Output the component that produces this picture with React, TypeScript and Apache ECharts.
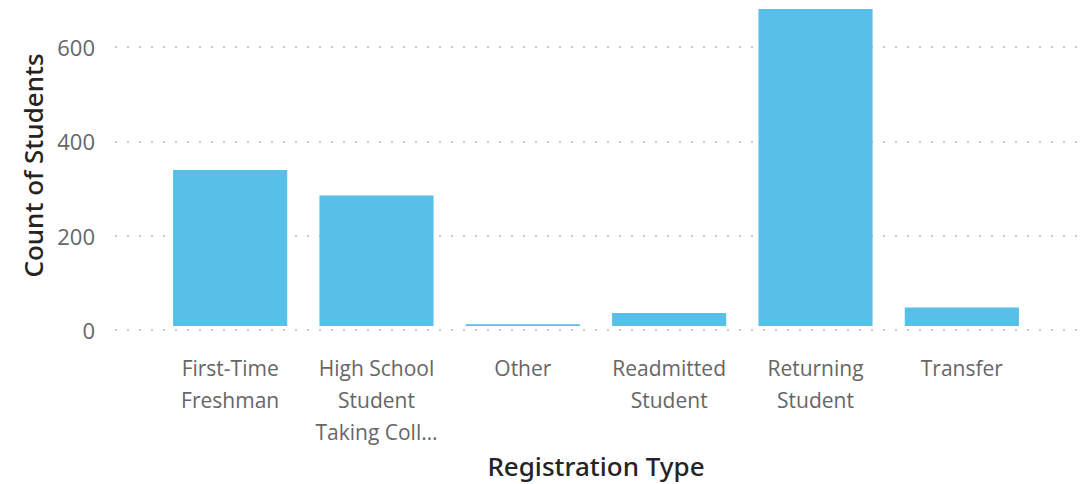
import React, { useEffect, useRef } from "react";
import * as echarts from "echarts";

const categories = [
  "First-Time\nFreshman",
  "High School\nStudent\nTaking Coll…",
  "Other",
  "Readmitted\nStudent",
  "Returning\nStudent",
  "Transfer",
];
const counts = [335, 280, 4, 28, 680, 40];
const tickMax = 600;
const barMax = 680;
const tickInterval = 200;

export default function App() {
  const ref = useRef<HTMLDivElement>(null);
  useEffect(() => {
    if (!ref.current) return;
    const chart = echarts.init(ref.current, undefined, { renderer: "svg" });
    const tickFont = "'Open Sans', 'Noto Sans', sans-serif";
    const titleFont = "'Noto Sans', 'Open Sans', sans-serif";
    chart.setOption({
      animation: false,
      grid: [
        { left: 115, right: 7, top: 47, bottom: 154 },
        { left: 157, right: 52, top: 9, bottom: 154 },
      ],
      xAxis: [
        {
          gridIndex: 0,
          type: "category",
          data: [""],
          show: false,
        },
        {
          gridIndex: 1,
          type: "category",
          data: categories,
          axisLine: { show: false },
          axisTick: { show: false },
          axisLabel: {
            interval: 0,
            color: "#666666",
            fontFamily: tickFont,
            fontSize: 21,
            lineHeight: 32,
            margin: 26,
          },
          name: "Registration Type",
          nameLocation: "middle",
          nameGap: 120,
          nameTextStyle: {
            color: "#252423",
            fontFamily: titleFont,
            fontSize: 26,
            fontWeight: 500,
          },
        },
      ],
      yAxis: [
        {
          gridIndex: 0,
          type: "value",
          min: 0,
          max: tickMax,
          interval: tickInterval,
          axisLine: { show: false },
          axisTick: { show: false },
          axisLabel: {
            color: "#666666",
            fontFamily: tickFont,
            fontSize: 22,
            margin: 20,
          },
          splitLine: {
            show: true,
            lineStyle: { color: "#C8C8C8", width: 2, type: [2, 10] },
          },
          name: "Count of Students",
          nameLocation: "middle",
          nameGap: 68,
          nameTextStyle: {
            color: "#252423",
            fontFamily: titleFont,
            fontSize: 26,
            fontWeight: 500,
            padding: [0, 0, 0, 46],
          },
        },
        {
          gridIndex: 1,
          type: "value",
          min: 0,
          max: barMax,
          show: false,
          splitLine: { show: false },
        },
      ],
      series: [
        {
          type: "bar",
          xAxisIndex: 1,
          yAxisIndex: 1,
          data: counts,
          barCategoryGap: "22%",
          itemStyle: { color: "#56C0E8" },
        },
      ],
    });
    return () => chart.dispose();
  }, []);
  return (
    <div
      ref={ref}
      style={{ position: "absolute", left: 0, top: 0, width: 1087, height: 484 }}
    />
  );
}
